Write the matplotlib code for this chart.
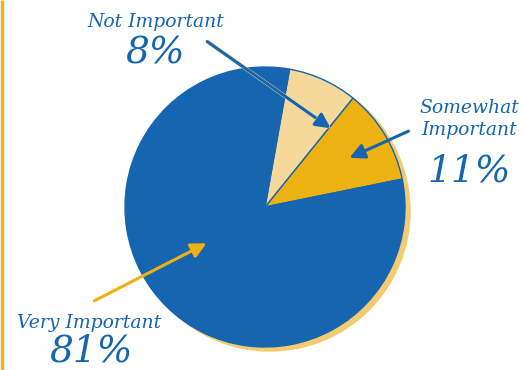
import matplotlib.pyplot as plt
import matplotlib.patheffects as pe
from matplotlib.patches import Circle

labels = ['Somewhat\nImportant', 'Not Important', 'Very Important']
values = [11, 8, 81]
colors = ['#EDB111', '#F6D89A', '#1565B0']

blue = '#1565B0'
gold = '#EDB111'
font = 'DejaVu Serif'

fig = plt.figure(figsize=(5.23, 3.70), dpi=100)
ax = fig.add_axes([0, 0, 1, 1])

cx, cy, r = 265, 163, 140

# shadow behind the pie
ax.add_patch(Circle((cx + 5, cy - 4), r, color='#F5CB70', zorder=0))
ax.pie(values, colors=colors, startangle=11.5, counterclock=True,
       center=(cx, cy), radius=r, frame=True,
       wedgeprops=dict(edgecolor=blue, linewidth=1.0))
ax.set_xlim(0, 523)
ax.set_ylim(0, 370)
ax.set_aspect('equal')
ax.axis('off')

# left rule
ax.plot([2, 2], [0, 370], color='#F0B323', lw=2.5, solid_capstyle='butt')

txt = dict(color=blue, family=font, style='italic', ha='center')

ax.text(156, 348, labels[1], fontsize=13.5, va='center', **txt)
ax.text(155, 317, '%d%%' % values[1], fontsize=27, va='center', **txt)

ax.text(469, 251, labels[0], fontsize=13.5, va='center', linespacing=1.25, **txt)
ax.text(469, 198, '%d%%' % values[0], fontsize=27, va='center', **txt)

ax.text(89, 47, labels[2], fontsize=13.5, va='center', **txt)
ax.text(91, 19, '%d%%' % values[2], fontsize=27, va='center', **txt)

arrow = dict(arrowstyle='-|>,head_length=0.9,head_width=0.45', lw=2.2)
ax.annotate('', xy=(333, 240), xytext=(205, 330),
            arrowprops=dict(color=blue, **arrow,
                            path_effects=[pe.withStroke(linewidth=2.8, foreground='#F6D89A')]))
ax.annotate('', xy=(347, 211), xytext=(411, 240),
            arrowprops=dict(color=blue, **arrow))
ax.annotate('', xy=(209, 128), xytext=(92, 68),
            arrowprops=dict(color=gold, **arrow))

fig.savefig('out.png', dpi=100)
